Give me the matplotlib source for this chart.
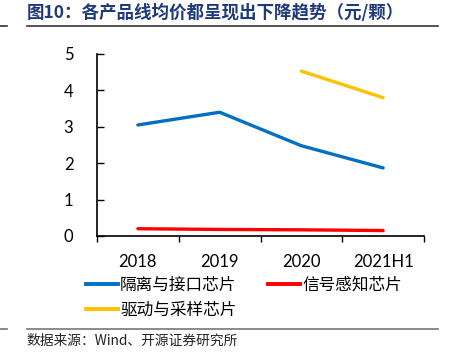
import matplotlib
matplotlib.use("Agg")
import matplotlib.pyplot as plt
from matplotlib.lines import Line2D
import numpy as np

categories = ["2018", "2019", "2020", "2021H1"]
isolation = [3.05, 3.40, 2.48, 1.87]
sensing = [0.20, 0.18, 0.17, 0.15]
driver = [np.nan, np.nan, 4.53, 3.80]
series_names = ["隔离与接口芯片", "信号感知芯片", "驱动与采样芯片"]
colors = ["#0070C0", "#FF0000", "#FFC000"]
title = "图10：各产品线均价都呈现出下降趋势（元/颗）"
source = "数据来源：Wind、开源证券研究所"

cjk = ["Noto Sans CJK SC", "DejaVu Sans"]

fig = plt.figure(figsize=(4.5, 3.59), dpi=100)
ax = fig.add_axes([97/450, 1-236/359, (424-97)/450, (236-54)/359])

x = np.arange(len(categories))
for vals, name, c in zip([isolation, sensing, driver], series_names, colors):
    ax.plot(x, vals, color=c, lw=2.4, label=name, solid_capstyle="round")

ax.set_xlim(-0.5, len(categories) - 0.5)
ax.set_ylim(0, 5)
ax.set_yticks(range(6))
ax.set_xticks(x)
ax.set_xticklabels(categories, fontfamily="Lato", fontsize=12)
ax.set_xticks(np.arange(-0.5, len(categories)), minor=True)
ax.tick_params(axis="x", which="major", length=0, pad=13)
ax.tick_params(axis="x", which="minor", length=4, direction="out", width=1)
ax.tick_params(axis="y", direction="in", length=5, width=1, pad=17, labelsize=12)
for lab in ax.get_yticklabels():
    lab.set_fontfamily("Lato")
ax.spines["top"].set_visible(False)
ax.spines["right"].set_visible(False)
for s in ["left", "bottom"]:
    ax.spines[s].set_linewidth(1.2)
    ax.spines[s].set_color("#000000")

order = [0, 2, 1]
handles = [Line2D([0], [0], color=colors[i], lw=2.8) for i in order]
labels = [series_names[i] for i in order]
leg = fig.legend(handles, labels, loc="upper left",
                 bbox_to_anchor=(86/450, 1-277/359), ncol=2, frameon=False,
                 prop={"family": cjk, "size": 12}, handlelength=1.9,
                 handletextpad=0.15, columnspacing=1.9, labelspacing=0.45,
                 borderaxespad=0, borderpad=0)

fig.text(27/450, 1-13/359, title, fontfamily=cjk, fontsize=12.6,
         fontweight="bold", color="#1F3A7A", va="center", ha="left")
fig.text(27/450, 1-341/359, source, fontfamily=cjk, fontsize=9.9,
         color="#222222", va="center", ha="left")

for yy, col in [(26, "#333333"), (329, "#777777")]:
    fig.add_artist(Line2D([27/450, 438/450], [1-yy/359]*2, color=col, lw=1.2,
                          transform=fig.transFigure))
    fig.add_artist(Line2D([0, 7/450], [1-yy/359]*2, color=col, lw=1.2,
                          transform=fig.transFigure))

fig.savefig("out.png", dpi=100)
